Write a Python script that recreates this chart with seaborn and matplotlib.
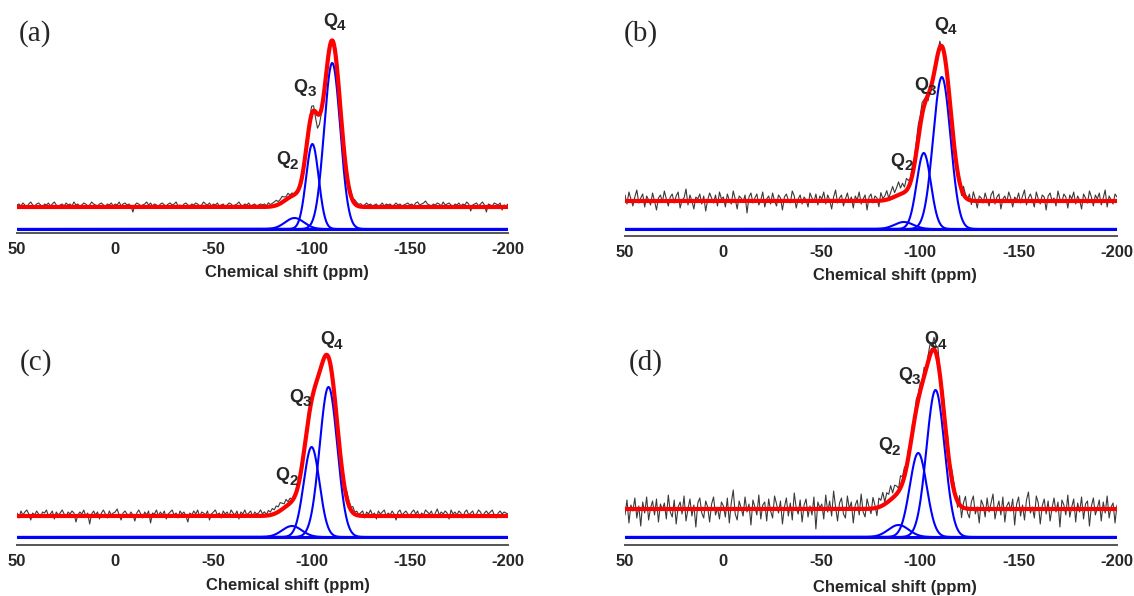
import numpy as np
import seaborn as sns
import matplotlib.pyplot as plt

# 29Si NMR spectra, four samples; Q2/Q3/Q4 gaussian deconvolution
W, H = 1134, 596

panel_labels = ["(a)", "(b)", "(c)", "(d)"]
q_digits = ["2", "3", "4"]
major_ticks = [50, 0, -50, -100, -150, -200]

# sampled chemical shift of the measured spectra (ppm)
shift = np.arange(50, -201, -1)

# fitted components: centre (ppm), width (ppm), height, for Q2, Q3, Q4
centers_a = [-91.3, -100.4, -110.5]
widths_a = [4.8, 3.2, 4.1]
heights_a = [11, 85, 166]

centers_b = [-91.7, -101.8, -111.0]
widths_b = [4.8, 3.6, 4.4]
heights_b = [7, 76, 152]

centers_c = [-90.0, -100.0, -108.6]
widths_c = [5.0, 4.0, 4.5]
heights_c = [11, 90, 150]

centers_d = [-89.0, -99.0, -107.8]
widths_d = [5.2, 4.3, 4.6]
heights_d = [12, 84, 147]

# baseline offset of measured spectrum / fit above the components
fit_offsets = [22, 28, 21, 28]

# residual (measured - fit) on the shift grid, 1 ppm steps from 50 to -200
noise_a = [2, 3, 1, 4, 2, 0, 3, 5, 2, 1, 3, 4, 2, -1, 3, 2, 4, 1, 3, 5, 2, 0, 2, 3, 1,
           4, 2, 3, 1, 5, 2, 3, 0, 2, 4, 3, 1, 2, 5, 3, 2, 1, 3, 4, 2, 0, 3, 2, 4, 1,
           3, 2, 5, 1, 3, 4, 2, 3, 1, -5, 2, 4, 3, 1, 2, 3, 5, 2, 4, 1, 3, 2, 0, 3, 4,
           2, 1, 3, 4, 2, 3, 5, 1, 2, 0, 3, 4, 2, 1, 3, 2, 4, 3, 1, 2, 5, 3, 2, 4, 1,
           3, 2, 4, 1, 2, 3, 0, 2, 4, 3, 1, 2, 3, 5, 2, 1, 3, 2, 4, 1, 2, 3, 1, 2, 3,
           2, 3, 1, 4, 2, 3, 4, 5, 3, 4, 6, 4, 3, 5, 2, 3, 1, 2, 0, 1, 2, 1, 3, 2, 5,
           8, 5, -6, -14, -10, -4, -1, 0, 1, -1, 0, 2, 1, -2, 0, 1, 2, 3, 4, 3, 5, 2, 4, 3, 2,
           3, 1, 2, 4, 2, 3, 1, 2, 3, 0, 2, 4, 1, 3, 2, 3, 1, 2, 4, 2, 3, 1, 2, 3, 4,
           2, 3, 1, 4, 5, 2, 3, 4, 6, 3, 2, 1, 3, 2, 4, 3, 1, 5, 2, 3, 4, 2, 0, 3, 2,
           4, 1, 3, 2, 5, 3, -4, 2, 3, 4, 1, 3, 5, 2, -5, 3, 2, 1, 4, 3, 2, 4, -3, 2, 1,
           3]
noise_b = [6, -3, 9, 2, -5, 4, 11, -2, 3, 7, -6, 5, 1, -4, 8, 0, -9, 3, 6, -1, 10, 2, -5, 4, 7,
           -2, 5, 9, -7, 1, 3, 12, -4, 6, 0, -8, 4, 2, 7, -3, 5, -10, 1, 8, 3, -2, 6, -5, 9, 2,
           4, -6, 7, 1, -3, 10, 2, -8, 5, 3, -1, 6, -12, 4, 8, -2, 3, 7, -4, 1, 9, -6, 2, 5, -3,
           8, 0, -5, 6, 3, -9, 4, 7, 1, -2, 10, 5, -7, 2, 6, -3, 4, 1, -6, 8, 3, -1, 7, -4, 5,
           2, 9, -3, 6, 1, -8, 4, 11, -2, 3, 6, -5, 2, 8, -1, 4, -7, 5, 1, 9, -3, 2, 6, -9, 4,
           7, -2, 5, 3, -6, 8, 2, 4, 9, 1, 6, 11, 4, 8, 13, 6, 10, 5, 12, 7, 4, 9, 6, 11, 14,
           10, 12, 6, 3, -6, 2, -4, 5, -2, 3, 6, -3, 4, 1, -5, 7, 3, 9, -2, 5, 1, -6, 8, 3, -1,
           6, -4, 9, 2, -7, 5, 3, -2, 8, 1, -5, 6, 10, -3, 4, 7, -8, 2, 5, -1, 9, 3, -6, 4, 1,
           8, -2, 5, 11, -4, 3, 7, 1, -6, 9, 2, -3, 6, 4, -9, 5, 8, 0, 3, -5, 10, 2, -1, 7, 4,
           -7, 6, 2, 9, -3, 5, 1, -8, 7, 3, -2, 10, 4, -5, 6, 2, 8, -4, 3, 11, -6, 5, 1, -3, 7,
           4]
noise_c = [3, -2, 5, 1, 4, 6, 2, -4, 3, 1, 5, 2, -1, 4, 3, 6, 0, 2, 5, -3, 4, 1, 3, 6, 2,
           -1, 4, 2, 5, 3, -6, 1, 4, 2, 6, 0, 3, -8, 2, 5, 1, 4, -3, 3, 6, 2, -2, 5, 1, 3,
           4, 7, 1, -4, 3, 5, 2, 0, 4, 1, -5, 3, 6, 2, -2, 4, 1, 5, -7, 3, 2, 6, 0, 4, 1,
           5, -3, 2, 4, 6, 1, 3, -2, 5, 2, 4, 0, -6, 3, 1, 5, 2, 6, -1, 4, 3, 1, 5, -4, 2,
           4, 6, 1, 3, -2, 5, 2, 4, 0, 6, 3, 1, 5, -3, 4, 2, 6, 1, 3, 5, -1, 4, 2, 3, 6,
           2, 4, 1, 5, 3, 6, 4, 7, 5, 8, 6, 4, 7, 3, 5, 2, 3, 1, 2, 0, 1, 2, 1, 0, 2,
           1, 0, 2, 1, -1, 0, 1, 2, 0, 1, 2, 3, 2, 4, 3, 5, 6, 4, 7, 5, 3, 6, 2, 4, 1,
           3, 5, -2, 4, 2, 6, 1, 3, -3, 5, 2, 4, 6, 0, 3, 1, 5, 2, -4, 4, 6, 1, 3, 5, 2,
           0, 4, 6, 2, 5, -2, 3, 1, 6, 4, 2, 5, -1, 3, 7, 1, 4, 2, 5, 3, -3, 6, 2, 4, 1,
           5, 3, -2, 4, 6, 1, 3, 5, 0, 2, 6, 4, -1, 3, 5, 2, 4, 6, 1, -2, 3, 5, 2, 4, 3,
           2]
noise_d = [-6, 9, -14, 4, -2, 11, -9, 3, -17, 7, -4, 12, -11, 1, 8, -6, 10, -13, 5, -1, 6, -10, 14, -3, -8,
           9, -15, 2, 7, -5, 13, -12, 0, 10, -7, 4, -18, 6, 11, -4, -9, 8, 2, -13, 5, 12, -6, 1, -10, 7,
           3, -8, 11, -14, 6, 19, -5, -11, 8, 1, -7, 12, -3, 5, -16, 9, 2, -6, 14, -10, 4, 7, -12, 10, -2,
           -9, 13, 5, -4, 8, -15, 2, 11, -7, 6, -11, 16, 1, -5, 9, -13, 4, 10, -8, 3, -6, 12, -20, 7, 1,
           5, -10, 14, -3, 8, -7, 18, 2, -12, 6, 11, -5, -9, 13, 0, 7, -14, 4, 9, -6, 15, -3, -8, 10, 2,
           -5, 11, 3, -8, 9, 6, 13, 2, 10, 7, 14, 5, 11, 8, 3, 12, 6, 9, 2, 7, -4, 8, 3, 10, 5,
           8, 2, 9, -3, 6, 11, 4, 12, 7, 14, 5, 9, 11, 6, 13, 4, 10, 8, 3, -6, 9, -11, 5, 12, -4,
           -9, 7, 13, -5, 2, -14, 9, 4, -8, 11, -3, 6, 15, -10, 1, 8, -6, 12, -13, 3, 7, -2, 10, -16, 5,
           12, -7, 4, -11, 9, 17, -4, 2, -9, 13, 6, -15, 3, 10, -5, 8, -12, 1, 11, -3, 7, -18, 9, 4, -6,
           14, -8, 2, 10, -13, 6, -3, 12, -10, 5, 8, -17, 3, 11, -6, 1, 9, -12, 7, -4, 13, -9, 2, 6, -14,
           4]

# Q label anchors (ppm, height above component baseline), junction of Q and index
qlab_x = [[-89, -98, -113], [-92, -104, -114], [-88.5, -95.6, -111.3], [-85.6, -95.8, -109]]
qlab_y = [[69, 142, 208], [68, 143, 204], [61, 140, 197], [91, 162, 197]]

sns.set_style("white")
plt.rcParams["font.family"] = ["Liberation Sans", "DejaVu Sans"]
plt.rcParams["axes.unicode_minus"] = False


def gauss(x, c, w, h):
    return h * np.exp(-0.5 * ((x - c) / w) ** 2)


# panel boxes in pixels: left, right, spine y, top y, y of component baseline
boxes = [(17, 508, 233, 10, 229), (625, 1117, 236, 10, 229),
         (17, 508, 545, 310, 537), (625, 1117, 545, 310, 537)]
xlabel_px = [(287, 265), (895, 268), (288, 578), (895, 580)]
letter_px = [(19, 34), (624, 34), (20, 363), (629, 363)]

params = [(centers_a, widths_a, heights_a, noise_a),
          (centers_b, widths_b, heights_b, noise_b),
          (centers_c, widths_c, heights_c, noise_c),
          (centers_d, widths_d, heights_d, noise_d)]

fig = plt.figure(figsize=(W / 100, H / 100), dpi=100)
fine = np.linspace(50, -200, 1251)

for i, (cen, wid, hei, noise) in enumerate(params):
    l, r, sp, top, base = boxes[i]
    ax = fig.add_axes([l / W, 1 - sp / H, (r - l) / W, (sp - top) / H])
    ax.set_xlim(50, -200)
    ax.set_ylim(-(sp - base), base - top)
    off = fit_offsets[i]

    comps = [gauss(fine, c, w, h) for c, w, h in zip(cen, wid, hei)]
    fit = np.sum(comps, axis=0)
    measured = np.sum([gauss(shift, c, w, h) for c, w, h in zip(cen, wid, hei)], axis=0)
    measured = measured + off + np.array(noise)

    sns.lineplot(x=shift, y=measured, ax=ax, color="#3a3a3a", lw=0.8,
                 estimator=None, sort=False)
    ax.axhline(0, color="#0000ff", lw=2.2)
    for comp in comps:
        sns.lineplot(x=fine, y=comp, ax=ax, color="#0000ff", lw=1.5,
                     estimator=None, sort=False)
    sns.lineplot(x=fine, y=fit + off, ax=ax, color="#ff0000", lw=3,
                 estimator=None, sort=False)

    for k in range(3):
        xy = (qlab_x[i][k], qlab_y[i][k])
        ax.annotate("Q", xy=xy, xytext=(0, 0), textcoords="offset points",
                    ha="right", va="center", fontsize=13, fontweight="bold")
        ax.annotate(q_digits[k], xy=xy, xytext=(0, -3.5), textcoords="offset points",
                    ha="left", va="center", fontsize=11, fontweight="bold")

    for s in ["left", "right", "top"]:
        ax.spines[s].set_visible(False)
    ax.spines["bottom"].set_color("#555555")
    ax.spines["bottom"].set_linewidth(1.4)
    ax.set_yticks([])
    ax.set_xticks(major_ticks)
    ax.set_xticks(np.arange(50, -201, -10), minor=True)
    ax.set_xticklabels([str(t) for t in major_ticks], fontweight="bold")
    ax.tick_params(axis="x", which="both", direction="out", length=3.2,
                   width=1, color="#555555", labelsize=12, pad=3)

    ax.set_xlabel("Chemical shift (ppm)", fontsize=12, fontweight="bold")
    xl, yl = xlabel_px[i]
    ax.xaxis.set_label_coords((xl - l) / (r - l), -(yl - sp) / (sp - top))

    lx, ly = letter_px[i]
    fig.text(lx / W, 1 - ly / H, panel_labels[i], fontsize=21,
             family="Liberation Serif", ha="left", va="center")

fig.savefig("out.png", dpi=100)
